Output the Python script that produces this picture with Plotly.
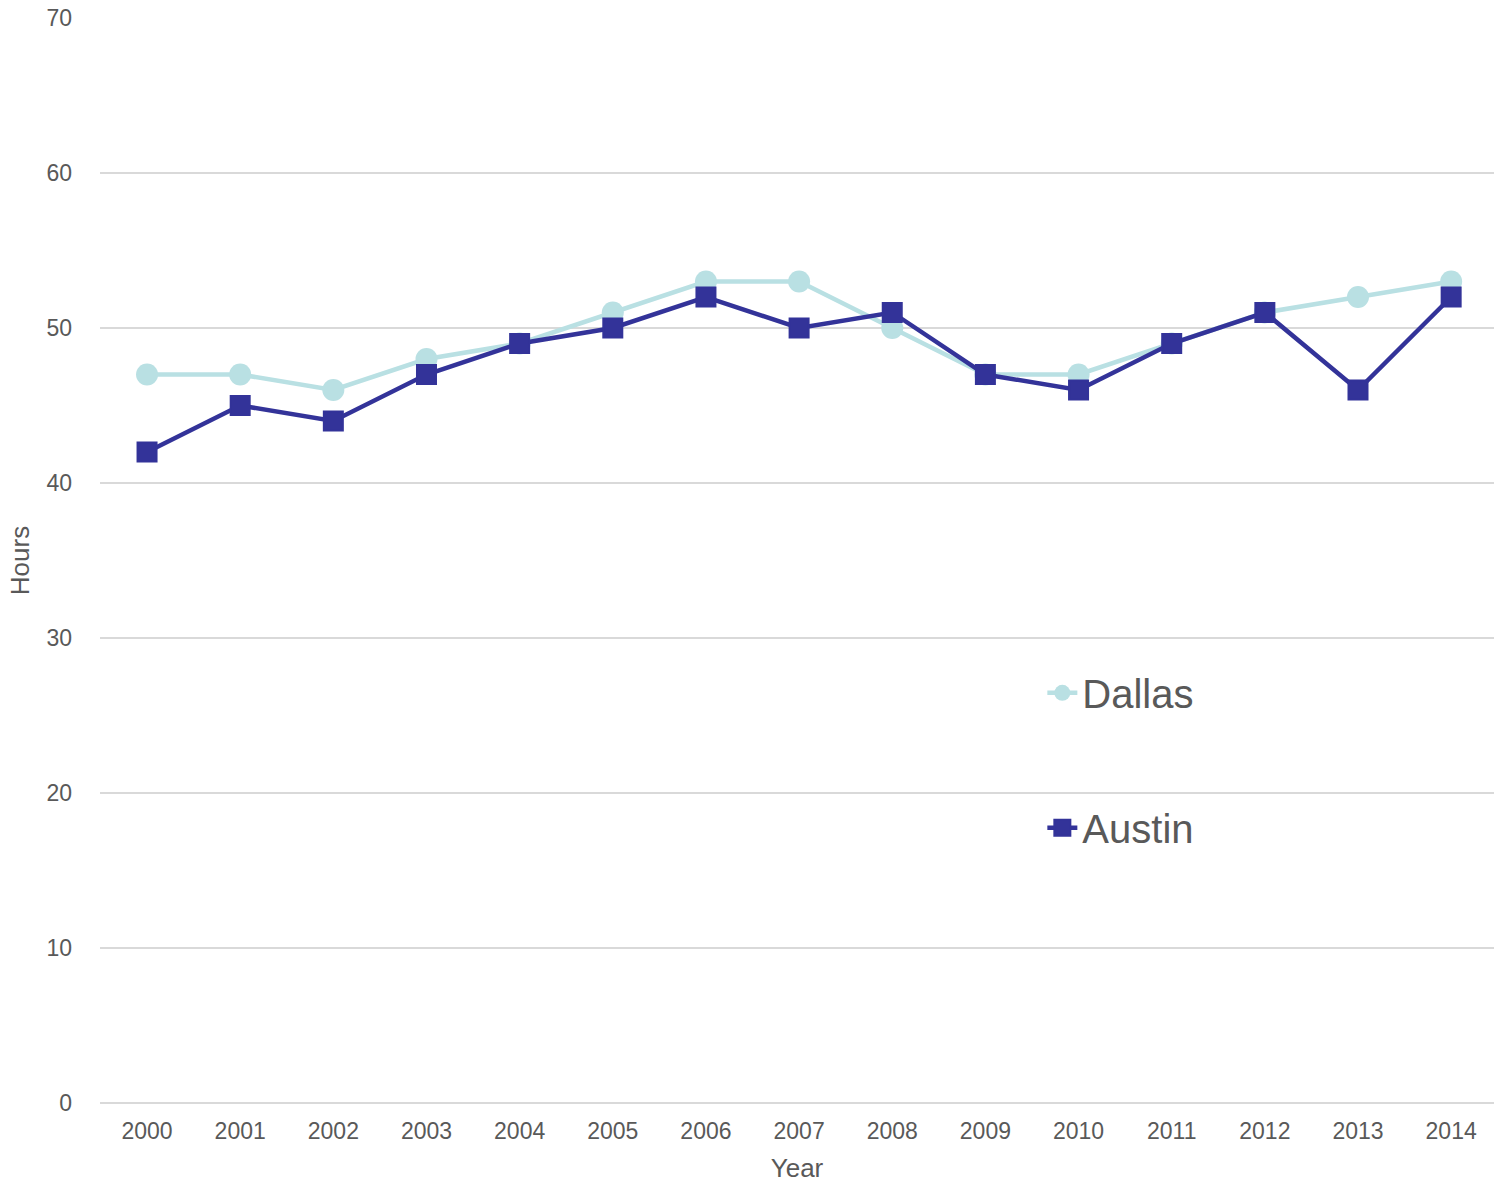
import plotly.graph_objects as go

years = [str(y) for y in range(2000, 2015)]
dallas = [47, 47, 46, 48, 49, 51, 53, 53, 50, 47, 47, 49, 51, 52, 53]
austin = [42, 45, 44, 47, 49, 50, 52, 50, 51, 47, 46, 49, 51, 46, 52]

fig = go.Figure()
fig.add_trace(go.Scatter(x=years, y=dallas, name="Dallas", mode="lines+markers",
                         legendgroup="d",
                         line=dict(color="#B9E0E3", width=4.5),
                         marker=dict(symbol="circle", size=22, color="#B9E0E3")))
fig.add_trace(go.Scatter(x=years, y=austin, name="Austin", mode="lines+markers",
                         legendgroup="a",
                         line=dict(color="#333399", width=4.5),
                         marker=dict(symbol="square", size=19, color="#333399",
                                     line=dict(width=2, color="#333399"))))

fig.update_layout(
    width=1494, height=1185,
    margin=dict(l=100, r=0, t=18, b=82),
    paper_bgcolor="white", plot_bgcolor="white",
    font=dict(family="Liberation Sans, Arial, sans-serif", color="#595959", size=23),
    showlegend=True,
    legend=dict(x=0.676, y=0.408, xanchor="left", yanchor="top",
                font=dict(size=40, color="#595959"),
                traceorder="grouped", tracegroupgap=80,
                bgcolor="rgba(0,0,0,0)"),
    xaxis=dict(type="category", range=[-0.505, 14.46], showgrid=False, showline=False, ticks="",
               tickfont=dict(size=23), ticklabelstandoff=12,
               title=dict(text="Year", font=dict(size=26), standoff=15)),
    yaxis=dict(range=[0, 70], dtick=10, showgrid=True, gridcolor="#D9D9D9", gridwidth=2,
               zeroline=True, zerolinecolor="#D9D9D9", zerolinewidth=2,
               showline=False, ticks="", tickfont=dict(size=23), ticklabelstandoff=27,
               title=dict(text="Hours", font=dict(size=26), standoff=9)),
)
fig.write_html("out.html", config={"displayModeBar": False},
               post_script="document.body.style.margin='0';")
